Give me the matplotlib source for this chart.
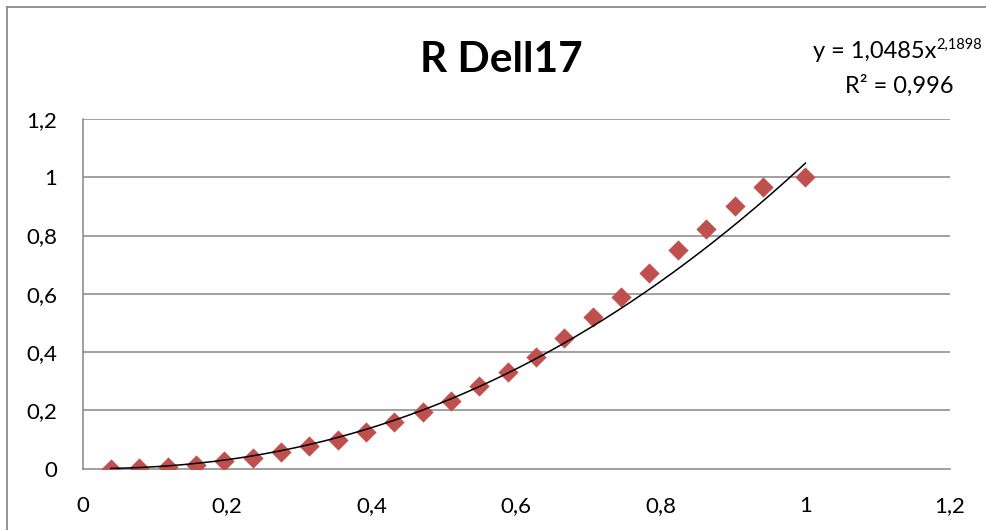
import matplotlib
matplotlib.use("Agg")
import matplotlib.pyplot as plt
import numpy as np
from matplotlib.lines import Line2D

plt.rcParams['font.family'] = ['Lato', 'DejaVu Sans']

# Data: input level (normalised) vs measured red output
levels = [10, 20, 30, 40, 50, 60, 70, 80, 90, 100, 110, 120, 130, 140, 150,
          160, 170, 180, 190, 200, 210, 220, 230, 240, 255]
x_vals = [v / 255 for v in levels]
y_vals = [0.0, 0.001, 0.005, 0.014, 0.026, 0.038, 0.058, 0.079, 0.098, 0.127,
          0.159, 0.194, 0.233, 0.283, 0.333, 0.384, 0.450, 0.522, 0.590, 0.672,
          0.752, 0.823, 0.903, 0.965, 1.0]

fit_a = 1.0485
fit_b = 2.1898
title = "R Dell17"
x_ticks = [0, 0.2, 0.4, 0.6, 0.8, 1, 1.2]
y_ticks = [0, 0.2, 0.4, 0.6, 0.8, 1, 1.2]
x_tick_labels = ["0", "0,2", "0,4", "0,6", "0,8", "1", "1,2"]
y_tick_labels = ["0", "0,2", "0,4", "0,6", "0,8", "1", "1,2"]

W, H = 986, 530
fig = plt.figure(figsize=(W / 100, H / 100), dpi=100)
fig.patch.set_facecolor('white')

L, R, B, T = 82.5, 950, 468.7, 119
ax = fig.add_axes([L / W, (H - B) / H, (R - L) / W, (B - T) / H])

grid_c = '#868686'
for yv in y_ticks[1:]:
    ax.axhline(yv, color=grid_c, lw=1.1, zorder=0)

ax.scatter(x_vals, y_vals, marker='D', s=10.3 ** 2, color='#C0504D',
           edgecolors='#C0504D', linewidths=0, zorder=3)

xt = np.linspace(x_vals[0], 1.0, 200)
ax.plot(xt, fit_a * xt ** fit_b, color='black', lw=1.1, zorder=4)

ax.set_xlim(0, 1.2)
ax.set_ylim(0, 1.2)
ax.set_xticks(x_ticks)
ax.set_xticklabels(x_tick_labels)
ax.set_yticks(y_ticks)
ax.set_yticklabels(y_tick_labels)
ax.tick_params(axis='both', length=0, labelsize=16, colors='black')
ax.tick_params(axis='y', pad=18)
ax.tick_params(axis='x', pad=20)
for s in ['top', 'right']:
    ax.spines[s].set_visible(False)
for s in ['left', 'bottom']:
    ax.spines[s].set_color(grid_c)
    ax.spines[s].set_linewidth(1.1)

fig.text(501 / W, 1 - 72.3 / H, title, ha='center', va='baseline',
         fontsize=30.5, fontweight='bold')

eq = fig.text(813 / W, 1 - 57.5 / H, "y = 1,0485x", ha='left',
              va='baseline', fontsize=17)
ax.annotate("2,1898", xy=(1.0, 0.0), xycoords=eq, xytext=(0.3, 9),
            textcoords='offset points', ha='left', va='baseline',
            fontsize=10.5, annotation_clip=False)
fig.text(845 / W, 1 - 92.5 / H, "R² = 0,996", ha='left', va='baseline',
         fontsize=17)

# chart area border (extends beyond right/bottom edges)
bc = '#898989'
fig.add_artist(Line2D([7 / W, 7 / W], [1 - 7 / H, -0.1], color=bc, lw=1.3,
                      transform=fig.transFigure))
fig.add_artist(Line2D([7 / W, 1.1], [1 - 7 / H, 1 - 7 / H], color=bc, lw=1.3,
                      transform=fig.transFigure))

fig.savefig("out.png", dpi=100)
